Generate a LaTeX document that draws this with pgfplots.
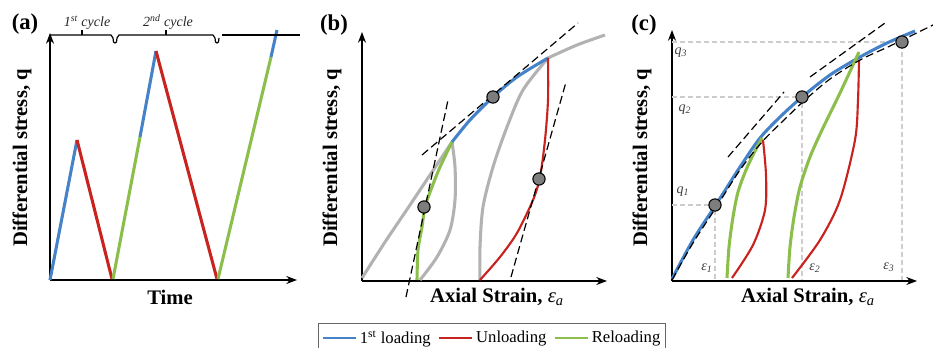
\documentclass[border=0pt]{standalone}
\usepackage{fontspec}
\setmainfont{Liberation Serif}
\usepackage{pgfplots}
\pgfplotsset{compat=1.18}
\usetikzlibrary{arrows.meta}
\definecolor{cblue}{RGB}{70,130,200}
\definecolor{cred}{RGB}{200,35,30}
\definecolor{cgreen}{RGB}{140,190,75}
\definecolor{cgray}{RGB}{178,178,178}
\definecolor{cdot}{RGB}{125,125,125}
\definecolor{gguide}{RGB}{205,205,205}
\definecolor{ltext}{RGB}{60,60,60}
\tikzset{
  plabel/.style={font=\bfseries\fontsize{17}{20}\selectfont},
  slabel/.style={font=\itshape\fontsize{10.5}{12}\selectfont, text=ltext},
}
\pgfplotsset{
  panel/.style={
    x=0.75pt, y=0.75pt,
    axis lines=left,
    axis line style={line width=1pt, -{Stealth[length=8pt,width=6pt,inset=2.5pt]}},
    xtick=\empty, ytick=\empty,
    clip=false,
    enlargelimits=false,
    label style={font=\bfseries\fontsize{15.5}{18}\selectfont},
  },
  cl/.style={line width=2.3pt, no markers},
  thin red/.style={cred, line width=1.6pt, no markers, smooth},
  blk dash/.style={black, line width=0.9pt, dash pattern=on 6pt off 3pt, no markers},
  guide/.style={gguide, line width=0.8pt, dash pattern=on 4pt off 2pt, no markers},
  dots/.style={only marks, mark=*, mark size=4.6pt, mark options={fill=cdot, draw=black, line width=0.8pt}},
}
\begin{document}
\begin{tikzpicture}
\useasboundingbox (0,0) rectangle (699.75pt,260.25pt);
% ---------------- (a) ----------------
\begin{axis}[panel, at={(37.5pt,50.25pt)}, anchor=south west,
  xmin=50, xmax=297, ymin=67, ymax=314,
  xlabel={Time}, ylabel={Differential stress, q},
  xlabel style={at={(axis description cs:0.486,-0.069)}, anchor=center},
  ylabel style={at={(axis description cs:-0.113,0.494)}, anchor=center}]
\addplot[cl, cblue] coordinates {(50,67) (77,207)};
\addplot[cl, cred] coordinates {(77,207) (112,68)};
\addplot[cl, cgreen] coordinates {(113,68) (140,210)};
\addplot[cl, cblue] coordinates {(140,210) (156,296)};
\addplot[cl, cred] coordinates {(156,296) (217,68)};
\addplot[cl, cgreen] coordinates {(218,68) (271,290)};
\addplot[cl, cblue] coordinates {(271,290) (277,317)};
% cycle brackets
\addplot[black, line width=0.9pt, no markers] coordinates {(50,312) (111,312) (113,309) (113.5,305) (115,304) (116.5,305) (117,309) (119,312) (213,312) (215,309) (215.5,305) (217,304) (218.5,305) (219,309)};
\addplot[black, line width=0.9pt, no markers] coordinates {(222,312) (300,312)};
\addplot[black, line width=0.9pt, no markers] coordinates {(82,312) (82,317)};
\addplot[black, line width=0.9pt, no markers] coordinates {(166,312) (166,317)};
\node[slabel, text=black!85] at (axis cs:87,324) {1\textsuperscript{st} cycle};
\node[slabel, text=black!85] at (axis cs:168,325) {2\textsuperscript{nd} cycle};
\node[plabel] at (axis cs:25,323) {(a)};
\end{axis}
% ---------------- (b) ----------------
\begin{axis}[panel, at={(271.5pt,49.5pt)}, anchor=south west,
  xmin=362, xmax=607, ymin=66, ymax=315,
  xlabel={Axial Strain, \textit{\mdseries ε\textsubscript{a}}}, ylabel={Differential stress, q},
  xlabel style={at={(axis description cs:0.551,-0.064)}, anchor=center},
  ylabel style={at={(axis description cs:-0.122,0.494)}, anchor=center},
  legend columns=3,
  legend style={at={(axis description cs:-0.1796,-0.168)}, anchor=north west,
    font=\fontsize{12.5}{15}\selectfont, draw=black!60, line width=0.8pt,
    inner xsep=2pt, inner ysep=3.5pt, /tikz/every even column/.append style={column sep=3pt}},
  legend image code/.code={\draw[#1] (0pt,0pt) -- (25pt,0pt);}]
\addlegendimage{cblue, line width=2pt}\addlegendentry{1\textsuperscript{st} loading}
\addlegendimage{cred, line width=2pt}\addlegendentry{Unloading}
\addlegendimage{cgreen, line width=2pt}\addlegendentry{Reloading}
\addplot[cl, cgray, forget plot] coordinates {(362,69) (385,105) (410,142) (432,175) (452,205)};
\addplot[cl, cgray, smooth, forget plot] coordinates {(452,205) (455,180) (455,147) (450,117) (437,90) (420,67)};
\addplot[cl, cgray, smooth, forget plot] coordinates {(548,289) (577,302) (605,312)};
\addplot[cl, cgray, smooth, forget plot] coordinates {(548,289) (523,257) (507,220) (493,180) (483,140) (480,100) (480,67)};
\addplot[cl, cgreen, smooth, forget plot] coordinates {(417,67) (418,97) (422,120) (425,140) (432,160) (440,180) (452,205)};
\addplot[cl, cblue, smooth, forget plot] coordinates {(452,205) (470,227) (493,250) (517,270) (548,289)};
\addplot[thin red, forget plot] coordinates {(548,289) (548,247) (545,207) (540,170) (533,147) (517,114) (500,90) (480,67)};
\addplot[blk dash, forget plot] coordinates {(406,50) (448,247)};
\addplot[blk dash, forget plot] coordinates {(422,192) (578,324)};
\addplot[blk dash, forget plot] coordinates {(511,70) (566,265)};
\addplot[dots, forget plot] coordinates {(424,140) (493,250) (539,168)};
\node[plabel] at (axis cs:334,322) {(b)};
\end{axis}
% ---------------- (c) ----------------
\begin{axis}[panel, at={(504pt,49.5pt)}, anchor=south west,
  xmin=672, xmax=917, ymin=66, ymax=317,
  xlabel={Axial Strain, \textit{\mdseries ε\textsubscript{a}}}, ylabel={Differential stress, q},
  xlabel style={at={(axis description cs:0.555,-0.064)}, anchor=center},
  ylabel style={at={(axis description cs:-0.122,0.49)}, anchor=center}]
\addplot[guide] coordinates {(672,142) (715,142) (715,67)};
\addplot[guide] coordinates {(672,250) (802,250) (802,67)};
\addplot[guide] coordinates {(672,305) (902,305) (902,67)};
\addplot[cl, cblue, smooth] coordinates {(672,68) (693,107) (717,144) (740,180) (760,209) (780,230) (802,250) (830,272) (860,290) (887,304) (915,316)};
\addplot[cl, cgreen, smooth] coordinates {(727,69) (729,100) (733,130) (738,155) (746,177) (754,194) (762,209)};
\addplot[thin red] coordinates {(763,207) (766,172) (765,137) (753,102) (732,69)};
\addplot[cl, cgreen, smooth] coordinates {(788,69) (790,100) (794,130) (800,160) (810,190) (822,217) (840,254) (859,295)};
\addplot[thin red] coordinates {(859,287) (858,247) (855,207) (840,147) (820,107) (792,69)};
\addplot[blk dash, smooth] coordinates {(672,67) (693,104) (717,141) (740,177) (762,205) (785,228) (805,247) (830,268) (860,287) (890,301) (933,322)};
\addplot[blk dash] coordinates {(728,190) (784,255)};
\addplot[blk dash] coordinates {(810,270) (885,324)};
\addplot[dots] coordinates {(715,142) (802,250) (902,305)};
\node[slabel] at (axis cs:683,155) {q\textsubscript{1}};
\node[slabel] at (axis cs:685,237) {q\textsubscript{2}};
\node[slabel] at (axis cs:681,294) {q\textsubscript{3}};
\node[slabel] at (axis cs:707,79) {ε\textsubscript{1}};
\node[slabel] at (axis cs:815,79) {ε\textsubscript{2}};
\node[slabel] at (axis cs:889,80) {ε\textsubscript{3}};
\node[plabel] at (axis cs:644,322) {(c)};
\end{axis}
\end{tikzpicture}
\end{document}
